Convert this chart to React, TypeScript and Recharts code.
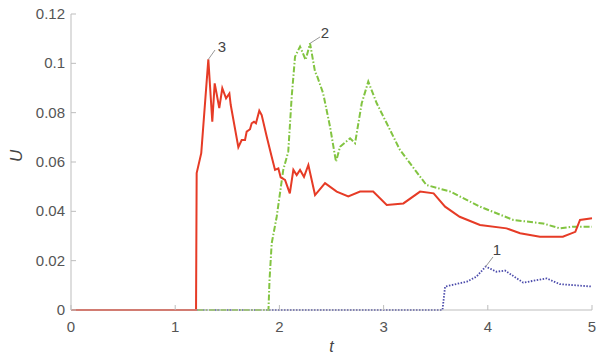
import React from 'react';
import { LineChart, Line, XAxis, YAxis, ReferenceLine, ReferenceDot } from 'recharts';

const xTicks = [0, 1, 2, 3, 4, 5];
const yTicks = [0, 0.02, 0.04, 0.06, 0.08, 0.1, 0.12];

const redT = [0, 1.2, 1.206, 1.25, 1.318, 1.356, 1.379, 1.423, 1.452, 1.488, 1.52, 1.533, 1.606, 1.638, 1.67, 1.686, 1.718, 1.734, 1.756, 1.775, 1.807, 1.83, 1.878, 1.926, 1.958, 1.99, 2.012, 2.054, 2.1, 2.134, 2.166, 2.198, 2.236, 2.278, 2.342, 2.438, 2.55, 2.661, 2.774, 2.9, 3.03, 3.19, 3.35, 3.48, 3.59, 3.73, 3.925, 4.18, 4.31, 4.5, 4.72, 4.84, 4.885, 5.0];
const redU = [0, 0, 0.0555, 0.0636, 0.1016, 0.0763, 0.0919, 0.0819, 0.0899, 0.0858, 0.0878, 0.0831, 0.066, 0.0689, 0.0689, 0.0723, 0.0733, 0.0757, 0.0763, 0.0757, 0.0808, 0.079, 0.0703, 0.0621, 0.0568, 0.0574, 0.0538, 0.0527, 0.0473, 0.0568, 0.0547, 0.0568, 0.054, 0.0588, 0.0466, 0.0514, 0.048, 0.046, 0.048, 0.048, 0.0426, 0.0432, 0.048, 0.0473, 0.0419, 0.0378, 0.0345, 0.0331, 0.0311, 0.0297, 0.0297, 0.0317, 0.0365, 0.0372];

const greenT = [0, 1.895, 1.905, 1.926, 1.974, 2.037, 2.085, 2.118, 2.15, 2.198, 2.252, 2.294, 2.342, 2.364, 2.42, 2.486, 2.543, 2.582, 2.678, 2.726, 2.79, 2.853, 2.934, 3.03, 3.157, 3.41, 3.64, 3.925, 4.245, 4.53, 4.69, 4.82, 5.0];
const greenU = [0, 0, 0.012, 0.027, 0.0378, 0.0568, 0.0642, 0.0865, 0.1027, 0.1068, 0.1014, 0.1081, 0.0966, 0.0946, 0.0878, 0.0743, 0.0601, 0.0662, 0.0696, 0.0676, 0.0838, 0.0926, 0.0838, 0.0757, 0.0649, 0.0507, 0.048, 0.0419, 0.0365, 0.0351, 0.0331, 0.0338, 0.0338];

const blueT = [0, 3.565, 3.59, 3.8, 3.89, 3.98, 4.085, 4.165, 4.34, 4.565, 4.69, 5.0];
const blueU = [0, 0, 0.0095, 0.0115, 0.0135, 0.0176, 0.0155, 0.016, 0.0111, 0.0128, 0.0105, 0.0095];

const annNames = ['1', '2', '3'];
const annPeakT = [3.98, 2.294, 1.318];
const annPeakU = [0.0176, 0.1081, 0.1016];
const annEndT = [4.05, 2.39, 1.382];
const annEndU = [0.0215, 0.1107, 0.1054];
const annTextT = [4.088, 2.438, 1.449];
const annTextU = [0.0243, 0.1123, 0.1066];

const toData = (t: number[], u: number[]) => t.map((v, i) => ({ t: v, u: u[i] }));
const redData = toData(redT, redU);
const greenData = toData(greenT, greenU);
const blueData = toData(blueT, blueU);

const FONT = '"Liberation Sans", Arial, sans-serif';
const AXIS = '#bdbdbd';
const TXT = '#555';

const XTickBottom = (p: any) => (
  <g>
    <line x1={p.x} x2={p.x} y1={p.y} y2={p.y - 5} stroke={AXIS} />
    <text x={p.x} y={p.y + 22} textAnchor="middle" fill={TXT} fontSize={15} fontFamily={FONT}>{p.payload.value}</text>
  </g>
);
const XTickTop = (p: any) => (
  <line x1={p.x} x2={p.x} y1={p.y} y2={p.y + 5} stroke={AXIS} />
);
const YTickLeft = (p: any) => (
  <g>
    <line x1={p.x} x2={p.x + 5} y1={p.y} y2={p.y} stroke={AXIS} />
    <text x={p.x - 6} y={p.y + 5} textAnchor="end" fill={TXT} fontSize={15} fontFamily={FONT}>{String(p.payload.value)}</text>
  </g>
);
const YTickRight = (p: any) => (
  <line x1={p.x} x2={p.x - 5} y1={p.y} y2={p.y} stroke={AXIS} />
);

export default function App() {
  return (
    <div style={{ position: 'absolute', left: 0, top: 0, width: 607, height: 357, background: '#fff' }}>
      <LineChart width={607} height={357} margin={{ top: 14, right: 15, bottom: 0, left: 0 }}>
        <XAxis xAxisId={0} dataKey="t" type="number" domain={[0, 5]} ticks={xTicks}
          height={47} tickSize={0} tickMargin={0} tickLine={false} axisLine={{ stroke: AXIS }} tick={<XTickBottom />}
          label={{ value: 't', position: 'insideBottom', offset: 5, fill: '#444', fontSize: 16, fontStyle: 'italic', fontFamily: FONT }} />
        <XAxis xAxisId="top" orientation="top" dataKey="t" type="number" domain={[0, 5]} ticks={xTicks}
          height={0} tickSize={0} tickMargin={0} tickLine={false} axisLine={{ stroke: AXIS }} tick={<XTickTop />} />
        <YAxis yAxisId={0} type="number" domain={[0, 0.12]} ticks={yTicks} width={71}
          tickSize={0} tickMargin={0} tickLine={false} axisLine={{ stroke: AXIS }} tick={<YTickLeft />}
          label={{ value: 'U', angle: -90, position: 'insideLeft', offset: 16, fill: '#444', fontSize: 17, fontStyle: 'italic', fontFamily: FONT }} />
        <YAxis yAxisId="right" orientation="right" type="number" domain={[0, 0.12]} ticks={yTicks} width={0}
          tickSize={0} tickMargin={0} tickLine={false} axisLine={{ stroke: AXIS }} tick={<YTickRight />} />
        <Line data={blueData} dataKey="u" type="linear" stroke="#4b4bab" strokeWidth={1.8} strokeDasharray="1.5 1.5" dot={false} isAnimationActive={false} />
        <Line data={greenData} dataKey="u" type="linear" stroke="#82c441" strokeWidth={2} strokeDasharray="6 2 1.5 2" dot={false} isAnimationActive={false} />
        <Line data={redData} dataKey="u" type="linear" stroke="#e63b26" strokeWidth={2} dot={false} isAnimationActive={false} />
        {annNames.map((n, i) => (
          <ReferenceLine key={'l' + n} segment={[{ x: annPeakT[i], y: annPeakU[i] }, { x: annEndT[i], y: annEndU[i] }]} stroke="#999" strokeWidth={1} />
        ))}
        {annNames.map((n, i) => (
          <ReferenceDot key={'d' + n} x={annTextT[i]} y={annTextU[i]} r={0} fill="none" stroke="none"
            label={{ value: n, position: 'center', fill: '#444', fontSize: 15, fontFamily: FONT }} />
        ))}
      </LineChart>
    </div>
  );
}
